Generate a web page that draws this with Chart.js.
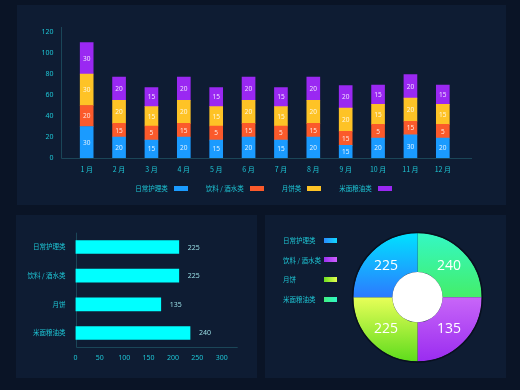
<!DOCTYPE html>
<html>
<head>
<meta charset="utf-8">
<script src="https://cdn.jsdelivr.net/npm/chart.js@4.4.0/dist/chart.umd.min.js"></script>
<style>
  html, body { margin: 0; padding: 0; width: 520px; height: 390px; overflow: hidden; background: #0a1426; }
  .panel { position: absolute; background: #0e1c33; }
  #p1 { left: 17px; top: 5px; width: 489px; height: 200px; }
  #p2 { left: 16px; top: 215px; width: 241px; height: 163px; }
  #p3 { left: 265px; top: 215px; width: 241px; height: 163px; }
  .panel canvas { position: absolute; left: 0; top: 0; }
  .lg { position: absolute; left: 18px; font: 6.5px 'Noto Sans CJK SC', sans-serif; color: #1ec5d5; line-height: 8px; }
  .lg i { position: absolute; left: 41px; top: 1.5px; width: 13px; height: 5px; }
  #topLegend { position: absolute; left: 7px; width: 479px; top: 179px; height: 8px; display: flex; justify-content: center; gap: 18px;
               font: 6.5px 'Noto Sans CJK SC', sans-serif; color: #1ec5d5; line-height: 8px; }
  #topLegend span { display: flex; align-items: center; gap: 6px; white-space: pre; }
  #topLegend i { display: block; width: 14px; height: 5px; }
</style>
</head>
<body>
<div class="panel" id="p1"><canvas id="stackChart" width="489" height="200"></canvas><div id="topLegend"></div></div>
<div class="panel" id="p2"><canvas id="sumChart" width="241" height="163"></canvas></div>
<div class="panel" id="p3"><canvas id="ringChart" width="241" height="163"></canvas></div>
<script>
// ---- data ----
const months = ['1 月', '2 月', '3 月', '4 月', '5 月', '6 月', '7 月', '8 月', '9 月', '10 月', '11 月', '12 月'];
const seriesNames = ['日常护理类', '饮料 / 酒水类', '月饼类', '米面粮油类'];

// segment heights as drawn
const careVals     = [30, 20, 17, 20, 17, 20, 17, 20, 12, 19, 22, 19];
const drinkVals    = [20, 13, 13.5, 13, 13.5, 13, 13.5, 13, 13.5, 13, 13, 13];
const mooncakeVals = [30, 22, 18.5, 22, 18.5, 22, 18.5, 22, 22, 19, 22, 19];
const grainVals    = [30, 22, 18, 22, 18, 22, 18, 22, 21.5, 18.5, 22.5, 18.5];

// numbers printed on the segments
const careText     = ['30', '20', '15', '20', '15', '20', '15', '20', '15', '20', '30', '20'];
const drinkText    = ['20', '15', '5', '15', '5', '15', '5', '15', '15', '5', '15', '5'];
const mooncakeText = ['30', '20', '15', '20', '15', '20', '15', '20', '20', '15', '20', '15'];
const grainText    = ['30', '20', '15', '20', '15', '20', '15', '20', '20', '15', '20', '15'];

const sumNames = ['日常护理类', '饮料 / 酒水类', '月饼', '米面粮油类'];
const sumVals  = [212, 212, 175, 235];
const sumText  = ['225', '225', '135', '240'];

// ring slices, clockwise from 12 o'clock
const ringNames = ['米面粮油类', '饮料 / 酒水类', '月饼', '日常护理类'];
const ringShare = [25, 25, 25, 25];
const ringText  = ['240', '135', '225', '225'];
const ringLegendOrder = [3, 1, 2, 0];

const stackColors = ['#1a9bff', '#fb5a2b', '#fec326', '#9a28f2'];
const ringColors = [['#34f8c4', '#44ee6a'], ['#c866f8', '#9a2cf0'], ['#e8ff58', '#5edc1c'], ['#00e2ff', '#2c7aff']];
const ringBoxColors = [['#40f080', '#30f8c8'], ['#9a30f0', '#d060ff'], ['#6ee020', '#e6ff50'], ['#2a8cff', '#10d8ff']];

Chart.defaults.font.family = "'Noto Sans CJK SC', 'Noto Sans', sans-serif";
Chart.defaults.color = '#1ec5d5';
Chart.defaults.animation = false;

// axis lines drawn a bit past the plot area, like the design
const axisLines = {
  id: 'axisLines',
  beforeDatasetsDraw(chart, args, o) {
    const { ctx, chartArea: a } = chart;
    const x0 = Math.round(a.left - o.dx) + 0.5;
    const y0 = Math.round(a.bottom) + 0.5;
    ctx.save();
    ctx.strokeStyle = o.color;
    ctx.lineWidth = 1;
    ctx.beginPath();
    ctx.moveTo(x0, a.top - o.up);
    ctx.lineTo(x0, y0);
    ctx.lineTo(a.right + o.ext, y0);
    ctx.stroke();
    ctx.restore();
  }
};

// text in the middle of each stacked segment
const segLabels = {
  id: 'segLabels',
  afterDatasetsDraw(chart, args, o) {
    const ctx = chart.ctx;
    ctx.save();
    ctx.font = o.font;
    ctx.fillStyle = o.color;
    ctx.textAlign = 'center';
    ctx.textBaseline = 'middle';
    chart.data.datasets.forEach((ds, i) => {
      chart.getDatasetMeta(i).data.forEach((bar, j) => {
        const p = bar.getProps(['x', 'y', 'base'], true);
        ctx.fillText(o.texts[i][j], p.x, (p.y + p.base) / 2 + 0.5);
      });
    });
    ctx.restore();
  }
};

// value text to the right of horizontal bars
const endLabels = {
  id: 'endLabels',
  afterDatasetsDraw(chart, args, o) {
    const ctx = chart.ctx;
    ctx.save();
    ctx.font = o.font;
    ctx.fillStyle = o.color;
    ctx.textAlign = 'left';
    ctx.textBaseline = 'middle';
    chart.getDatasetMeta(0).data.forEach((bar, j) => {
      const p = bar.getProps(['x', 'y'], true);
      ctx.fillText(o.texts[j], p.x + 9, p.y + 0.5);
    });
    ctx.restore();
  }
};

// white hole, dark rim and big numbers on the ring
const ringDecor = {
  id: 'ringDecor',
  afterDatasetsDraw(chart, args, o) {
    const ctx = chart.ctx;
    const arcs = chart.getDatasetMeta(0).data;
    const a0 = arcs[0].getProps(['x', 'y', 'innerRadius', 'outerRadius'], true);
    ctx.save();
    ctx.strokeStyle = o.rim;
    ctx.lineWidth = 1.5;
    ctx.beginPath();
    ctx.arc(a0.x, a0.y, a0.outerRadius + 0.5, 0, Math.PI * 2);
    ctx.stroke();
    ctx.fillStyle = '#ffffff';
    ctx.beginPath();
    ctx.arc(a0.x, a0.y, a0.innerRadius, 0, Math.PI * 2);
    ctx.fill();
    ctx.font = o.font;
    ctx.fillStyle = '#ffffff';
    ctx.textAlign = 'center';
    ctx.textBaseline = 'middle';
    arcs.forEach((arc, i) => {
      const p = arc.tooltipPosition(true);
      ctx.fillText(o.texts[i], p.x, p.y);
    });
    ctx.restore();
  }
};

// ---- stacked monthly bars ----
new Chart(document.getElementById('stackChart'), {
  type: 'bar',
  data: {
    labels: months,
    datasets: [careVals, drinkVals, mooncakeVals, grainVals].map((vals, i) => ({
      label: seriesNames[i],
      data: vals,
      backgroundColor: stackColors[i],
      borderWidth: 0,
      barThickness: 13
    }))
  },
  options: {
    responsive: false,
    layout: { padding: { left: 0, right: 47, top: 27, bottom: 27 } },
    plugins: {
      legend: { display: false },
      tooltip: { enabled: false },
      segLabels: { texts: [careText, drinkText, mooncakeText, grainText], font: "6.5px 'Noto Sans', sans-serif", color: 'rgba(255,255,255,0.85)' },
      axisLines: { color: '#1b4658', dx: 9.5, ext: 13, up: 5 }
    },
    scales: {
      x: {
        stacked: true,
        grid: { display: false, drawTicks: false },
        border: { display: false },
        ticks: { padding: 7, font: { size: 7 } },
        afterFit: s => { s.height = 20; }
      },
      y: {
        stacked: true,
        min: 0,
        max: 120,
        grid: { display: false, drawTicks: false },
        border: { display: false },
        ticks: { stepSize: 20, padding: 17, font: { family: "'Noto Sans', sans-serif", size: 7 } },
        afterFit: s => { s.width = 53.5; }
      }
    }
  },
  plugins: [axisLines, segLabels]
});

// legend for the monthly bars, text first then swatch
const topLegend = document.getElementById('topLegend');
seriesNames.forEach((name, i) => {
  const item = document.createElement('span');
  item.textContent = name;
  const sw = document.createElement('i');
  sw.style.background = stackColors[i];
  item.appendChild(sw);
  topLegend.appendChild(item);
});

// ---- horizontal totals ----
new Chart(document.getElementById('sumChart'), {
  type: 'bar',
  data: {
    labels: sumNames,
    datasets: [{ data: sumVals, backgroundColor: '#00ffff', borderWidth: 0, barThickness: 13 }]
  },
  options: {
    indexAxis: 'y',
    responsive: false,
    layout: { padding: { left: 0, right: 35.3, top: 17.7, bottom: 0 } },
    plugins: {
      legend: { display: false },
      tooltip: { enabled: false },
      endLabels: { texts: sumText, font: "7px 'Noto Sans', sans-serif", color: '#9adfe6' },
      axisLines: { color: '#1b4658', dx: 0, ext: 16, up: 0 }
    },
    scales: {
      x: {
        min: 0,
        max: 300,
        grid: { display: false, drawTicks: false },
        border: { display: false },
        ticks: { stepSize: 50, padding: 6.5, font: { family: "'Noto Sans', sans-serif", size: 7 } },
        afterFit: s => { s.height = 30.7; }
      },
      y: {
        grid: { display: false, drawTicks: false },
        border: { display: false },
        ticks: { padding: 10, font: { size: 6.5 } },
        afterFit: s => { s.width = 59.5; }
      }
    }
  },
  plugins: [axisLines, endLabels]
});

// ---- ring ----
const ringTotal = ringShare.reduce((s, v) => s + v, 0);
function ringFill(c) {
  const chart = c.chart, a = chart.chartArea;
  if (!a) return ringColors[c.dataIndex][0];
  let before = 0;
  for (let k = 0; k < c.dataIndex; k++) before += ringShare[k];
  const mid = -Math.PI / 2 + (before + ringShare[c.dataIndex] / 2) / ringTotal * Math.PI * 2;
  const top = Math.sin(mid) < 0;
  const [c1, c2] = ringColors[c.dataIndex];
  const g = chart.ctx.createLinearGradient(0, a.top, 0, a.bottom);
  if (top) { g.addColorStop(0, c1); g.addColorStop(0.5, c2); g.addColorStop(1, c2); }
  else { g.addColorStop(0, c1); g.addColorStop(0.5, c1); g.addColorStop(1, c2); }
  return g;
}

new Chart(document.getElementById('ringChart'), {
  type: 'doughnut',
  data: {
    labels: ringNames,
    datasets: [{ data: ringShare, backgroundColor: ringFill, borderWidth: 0 }]
  },
  options: {
    responsive: false,
    cutout: '39%',
    layout: { padding: { left: 88.2, right: 24.2, top: 17.9, bottom: 16.5 } },
    plugins: {
      legend: { display: false },
      tooltip: { enabled: false },
      ringDecor: { texts: ringText, font: "14px 'Open Sans', sans-serif", rim: '#08101f' }
    }
  },
  plugins: [ringDecor]
});

// legend for the ring, text first then swatch
const p3 = document.getElementById('p3');
ringLegendOrder.forEach((idx, row) => {
  const d = document.createElement('div');
  d.className = 'lg';
  d.style.top = (21 + row * 19.7) + 'px';
  d.textContent = ringNames[idx];
  const sw = document.createElement('i');
  sw.style.background = 'linear-gradient(90deg,' + ringBoxColors[idx][0] + ',' + ringBoxColors[idx][1] + ')';
  d.appendChild(sw);
  p3.appendChild(d);
});
</script>
</body>
</html>
